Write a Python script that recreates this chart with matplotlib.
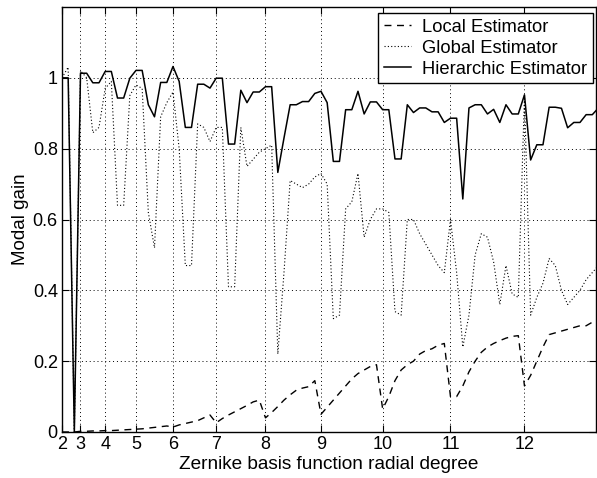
import matplotlib
matplotlib.use("Agg")
import matplotlib.pyplot as plt
import numpy as np

plt.rcParams['font.family'] = ['Liberation Sans', 'DejaVu Sans']

# mode index (0 = piston), radial degree n starts at mode n(n+1)/2
modos = np.arange(3, 91)
grados = [2, 3, 4, 5, 6, 7, 8, 9, 10, 11, 12]
inicio_grado = [3, 6, 10, 15, 21, 28, 36, 45, 55, 66, 78]

# Local Estimator
local = [
    0.0, 0.0, 0.0,
    0.002, 0.002, 0.003, 0.003,
    0.004, 0.004, 0.005, 0.006, 0.007,
    0.008, 0.009, 0.011, 0.013, 0.015, 0.017,
    0.014, 0.02, 0.024, 0.028, 0.032, 0.04, 0.048,
    0.026, 0.038, 0.048, 0.057, 0.066, 0.075, 0.085, 0.09,
    0.04, 0.055, 0.072, 0.09, 0.105, 0.118, 0.124, 0.128, 0.145,
    0.05, 0.07, 0.09, 0.11, 0.13, 0.15, 0.165, 0.175, 0.185, 0.19,
    0.065, 0.1, 0.145, 0.175, 0.19, 0.2, 0.22, 0.23, 0.235, 0.245, 0.25,
    0.1, 0.1, 0.13, 0.17, 0.2, 0.225, 0.24, 0.25, 0.258, 0.265, 0.27, 0.272,
    0.13, 0.16, 0.2, 0.24, 0.275, 0.28, 0.285, 0.29, 0.295, 0.3, 0.3, 0.31, 0.315,
]

# Global Estimator
global_ = [
    1.0, 1.03, 0.0,
    1.02, 1.0, 0.845, 0.86,
    0.97, 0.99, 0.64, 0.64, 0.95,
    0.98, 0.97, 0.62, 0.52, 0.89, 0.93,
    0.96, 0.8, 0.47, 0.47, 0.87, 0.86, 0.82,
    0.86, 0.86, 0.41, 0.41, 0.86, 0.75, 0.77, 0.79,
    0.8, 0.81, 0.22, 0.45, 0.71, 0.70, 0.69, 0.70, 0.72,
    0.73, 0.70, 0.32, 0.33, 0.63, 0.65, 0.73, 0.55, 0.6, 0.63,
    0.63, 0.62, 0.34, 0.33, 0.6, 0.6, 0.56, 0.53, 0.5, 0.47, 0.45,
    0.6, 0.45, 0.24, 0.33, 0.5, 0.56, 0.55, 0.48, 0.36, 0.47, 0.39, 0.38,
    0.95, 0.33, 0.38, 0.42, 0.49, 0.47, 0.4, 0.36, 0.38, 0.4, 0.43, 0.45, 0.47,
]

# Hierarchic Estimator
jerarquico = [
    1.0, 1.0, 0.0,
    1.013, 1.013, 0.986, 0.986,
    1.018, 1.018, 0.943, 0.943, 0.999,
    1.021, 1.021, 0.924, 0.89, 0.987, 0.987,
    1.032, 0.99, 0.86, 0.86, 0.982, 0.982, 0.971,
    0.999, 0.999, 0.813, 0.813, 0.965, 0.93, 0.96, 0.96,
    0.975, 0.975, 0.733, 0.83, 0.924, 0.924, 0.933, 0.933, 0.956,
    0.962, 0.93, 0.764, 0.764, 0.91, 0.91, 0.962, 0.898, 0.932, 0.932,
    0.91, 0.91, 0.771, 0.771, 0.924, 0.902, 0.915, 0.915, 0.904, 0.904, 0.874,
    0.886, 0.886, 0.658, 0.915, 0.924, 0.924, 0.898, 0.911, 0.874, 0.924, 0.898, 0.898,
    0.952, 0.768, 0.811, 0.811, 0.917, 0.917, 0.914, 0.859, 0.874, 0.874, 0.896, 0.896, 0.915,
]

fig = plt.figure(figsize=(5.97, 4.78), dpi=100)
ax = fig.add_axes([62/597, 46/478, 534/597, 425/478])

ax.plot(modos, local, color='black', linestyle=(0, (5, 4)), linewidth=1.0, label='Local Estimator')
ax.plot(modos, global_, color='black', linestyle=(0, (1, 2)), linewidth=0.8, label='Global Estimator')
ax.plot(modos, jerarquico, color='black', linestyle='-', linewidth=1.1, label='Hierarchic Estimator')

ax.set_xlim(3, 89.6)
ax.set_ylim(0, 1.2)
ax.set_xticks(inicio_grado)
ax.set_xticklabels([str(g) for g in grados])
ax.set_yticks([0, 0.2, 0.4, 0.6, 0.8, 1.0])
ax.set_yticklabels(['0', '0.2', '0.4', '0.6', '0.8', '1'])
ax.tick_params(direction='in', length=5, top=True, right=True, labelsize=13, pad=3)
ax.grid(True, color='black', linestyle=(0, (1, 3)), linewidth=0.7)
for s in ax.spines.values():
    s.set_linewidth(1.0)

ax.set_xlabel('Zernike basis function radial degree', fontsize=13.7, labelpad=2)
ax.set_ylabel('Modal gain', fontsize=13.5, labelpad=3)

# leyenda arriba a la derecha, con marco negro
leg = ax.legend(loc='upper right', bbox_to_anchor=(593/597, 465/478),
                bbox_transform=fig.transFigure, fontsize=13.2, frameon=True,
                fancybox=False, framealpha=1, edgecolor='black',
                handlelength=1.5, labelspacing=0.22, borderaxespad=0,
                borderpad=0.3, handletextpad=0.6)
leg.get_frame().set_linewidth(1.0)

fig.savefig('out.png', dpi=100)
